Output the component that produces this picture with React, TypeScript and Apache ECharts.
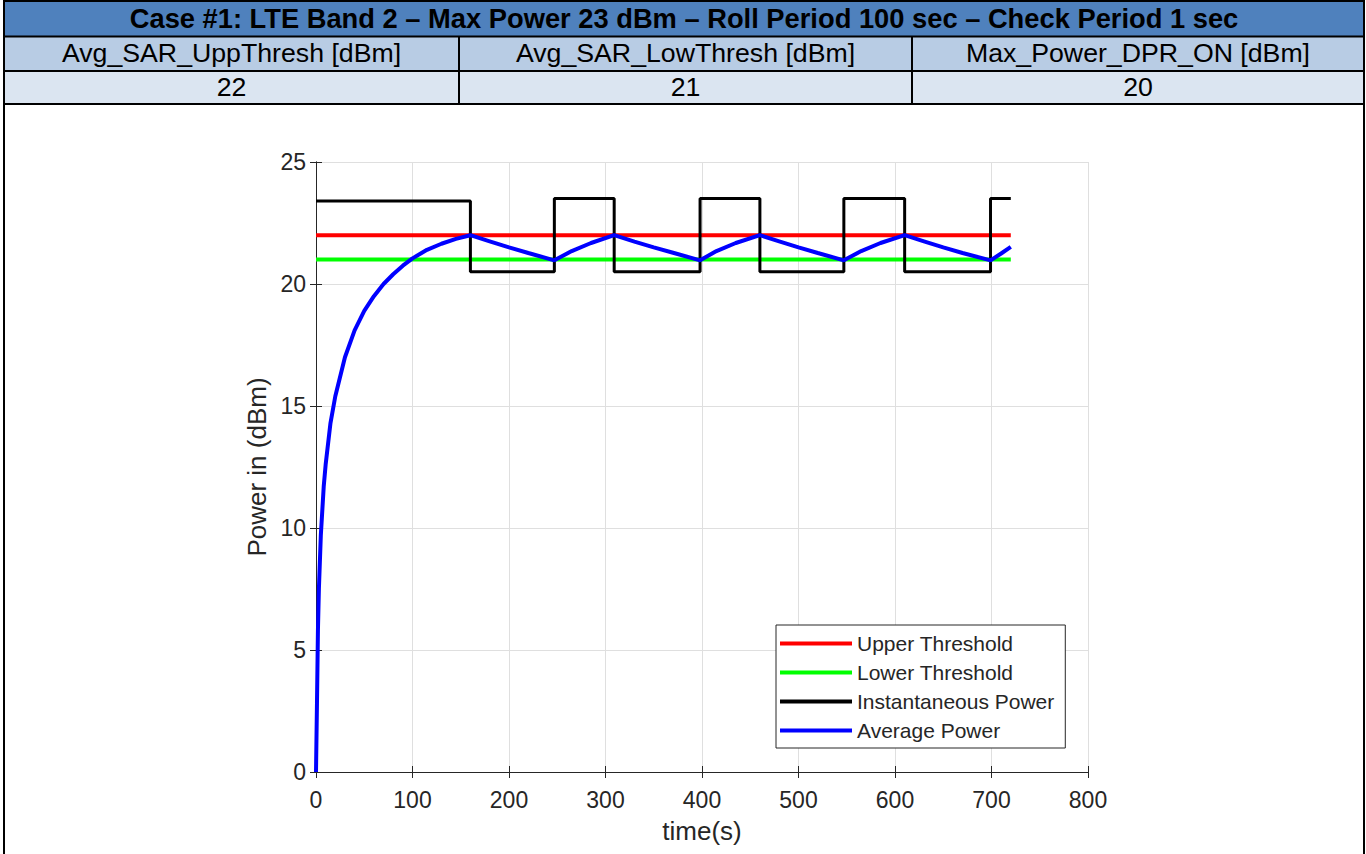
import React, { useEffect, useRef } from "react";
import * as echarts from "echarts";

// ---------- text / data ----------
const titleText =
  "Case #1: LTE Band 2 – Max Power 23 dBm – Roll Period 100 sec – Check Period 1 sec";
const paramNames = ["Avg_SAR_UppThresh [dBm]", "Avg_SAR_LowThresh [dBm]", "Max_Power_DPR_ON [dBm]"];
const paramValues = ["22", "21", "20"];

const seriesNames = ["Upper Threshold", "Lower Threshold", "Instantaneous Power", "Average Power"];

const upperThreshold = 22;
const lowerThreshold = 21;
const thresholdSpan = [0, 720];

const instTimes = [0, 160, 160, 247, 247, 309, 309, 398, 398, 460, 460, 547, 547, 610, 610, 699, 699, 720];
const instPower = [23.4, 23.4, 20.5, 20.5, 23.5, 23.5, 20.5, 20.5, 23.5, 23.5, 20.5, 20.5, 23.5, 23.5, 20.5, 20.5, 23.5, 23.5];

const avgTimes = [
  0, 1, 2, 3, 5, 8, 10, 15, 20, 30, 40, 50, 60, 70, 80, 90, 100, 115, 130, 145, 160,
  180, 200, 220, 247, 265, 285, 309,
  330, 350, 370, 398, 415, 435, 460,
  480, 500, 520, 547, 565, 585, 610,
  630, 650, 670, 699, 710, 720,
];
const avgPower = [
  0, 2.8, 5.8, 7.5, 9.7, 11.7, 12.6, 14.3, 15.4, 17.0, 18.1, 18.9, 19.5, 20.0, 20.4, 20.75, 21.05, 21.4, 21.65, 21.85, 22.0,
  21.75, 21.5, 21.27, 20.97, 21.35, 21.68, 22.0,
  21.74, 21.5, 21.28, 20.97, 21.35, 21.68, 22.0,
  21.75, 21.5, 21.27, 20.97, 21.35, 21.68, 22.0,
  21.75, 21.5, 21.27, 20.97, 21.25, 21.52,
];

const xMin = 0, xMax = 800, xStep = 100;
const yMin = 0, yMax = 25, yStep = 5;

// ---------- styles ----------
const FONT = '"Liberation Sans", Arial, Helvetica, sans-serif';
const AX = "#262626";
const GRIDC = "#dfdfdf";

export default function App() {
  const ref = useRef<HTMLDivElement>(null);

  useEffect(() => {
    if (!ref.current) return;
    const chart = echarts.init(ref.current, undefined, { renderer: "svg" });

    const zip = (a: number[], b: number[]) => a.map((v, i) => [v, b[i]]);

    const L = 4, R = 1364;
    const y0 = 1, y1 = 36.5, y2 = 71, y3 = 104;
    const c1 = 459, c2 = 912;

    const graphics: any[] = [
      { type: "rect", shape: { x: L, y: y0, width: R - L, height: y1 - y0 }, style: { fill: "#4F81BD" }, z: 10 },
      { type: "rect", shape: { x: L, y: y1, width: R - L, height: y2 - y1 }, style: { fill: "#B8CCE4" }, z: 10 },
      { type: "rect", shape: { x: L, y: y2, width: R - L, height: y3 - y2 }, style: { fill: "#DBE5F1" }, z: 10 },
    ];
    [y0, y1, y2, y3].forEach((yy) =>
      graphics.push({ type: "line", shape: { x1: L - 1, y1: yy, x2: R + 1, y2: yy }, style: { stroke: "#000", lineWidth: 2 }, z: 12 })
    );
    [L, R].forEach((xx) =>
      graphics.push({ type: "line", shape: { x1: xx, y1: 0, x2: xx, y2: 854 }, style: { stroke: "#000", lineWidth: 2 }, z: 12 })
    );
    [c1, c2].forEach((xx) =>
      graphics.push({ type: "line", shape: { x1: xx, y1: y1, x2: xx, y2: y3 }, style: { stroke: "#000", lineWidth: 2 }, z: 12 })
    );
    graphics.push({
      type: "text", x: (L + R) / 2, y: (y0 + y1) / 2, z: 13,
      style: { text: titleText, fill: "#000", font: `bold 27.3px ${FONT}`, textAlign: "center", textVerticalAlign: "middle" },
    });
    const cols = [[L, c1], [c1, c2], [c2, R]];
    cols.forEach(([a, b], i) => {
      graphics.push({
        type: "text", x: (a + b) / 2, y: (y1 + y2) / 2 - 0.5, z: 13,
        style: { text: paramNames[i], fill: "#000", font: `26.7px ${FONT}`, textAlign: "center", textVerticalAlign: "middle" },
      });
      graphics.push({
        type: "text", x: (a + b) / 2, y: (y2 + y3) / 2 - 0.5, z: 13,
        style: { text: paramValues[i], fill: "#000", font: `26.7px ${FONT}`, textAlign: "center", textVerticalAlign: "middle" },
      });
    });

    const axisCommon = {
      axisLine: { show: true, lineStyle: { color: AX, width: 1 } },
      axisTick: { show: true, inside: true, length: 6, lineStyle: { color: AX } },
    };

    chart.setOption({
      animation: false,
      backgroundColor: "#fff",
      textStyle: { fontFamily: FONT },
      grid: { left: 316, top: 162, width: 772, height: 610, containLabel: false },
      legend: {
        orient: "vertical",
        left: 776,
        top: 625,
        data: seriesNames,
        icon: "rect",
        itemWidth: 72,
        itemHeight: 4,
        itemGap: 8,
        padding: [8, 11, 7, 4],
        borderColor: AX,
        borderWidth: 1,
        borderRadius: 0,
        backgroundColor: "#fff",
        textStyle: { fontSize: 21, color: AX, lineHeight: 21, fontFamily: FONT },
      },
      xAxis: [
        {
          type: "value", min: xMin, max: xMax, interval: xStep, position: "bottom",
          ...axisCommon,
          splitLine: { show: true, lineStyle: { color: GRIDC, width: 1 } },
          axisLabel: { fontSize: 23, color: AX, margin: 16, fontFamily: FONT },
          name: "time(s)", nameLocation: "middle", nameGap: 46,
          nameTextStyle: { fontSize: 26, color: AX, fontFamily: FONT },
        },
        {
          type: "value", min: xMin, max: xMax, interval: xStep, position: "top",
          ...axisCommon, splitLine: { show: false }, axisLabel: { show: false },
        },
      ],
      yAxis: [
        {
          type: "value", min: yMin, max: yMax, interval: yStep, position: "left",
          ...axisCommon,
          splitLine: { show: true, lineStyle: { color: GRIDC, width: 1 } },
          axisLabel: { fontSize: 23, color: AX, margin: 10, fontFamily: FONT },
          name: "Power in (dBm)", nameLocation: "middle", nameGap: 45,
          nameTextStyle: { fontSize: 26, color: AX, fontFamily: FONT },
        },
        {
          type: "value", min: yMin, max: yMax, interval: yStep, position: "right",
          ...axisCommon, splitLine: { show: false }, axisLabel: { show: false },
        },
      ],
      series: [
        {
          name: seriesNames[0], type: "line", showSymbol: false, symbol: "none", color: "#ff0000",
          lineStyle: { width: 4, color: "#ff0000" },
          data: [[thresholdSpan[0], upperThreshold], [thresholdSpan[1], upperThreshold]],
          z: 2,
        },
        {
          name: seriesNames[1], type: "line", showSymbol: false, symbol: "none", color: "#00ff00",
          lineStyle: { width: 4, color: "#00ff00" },
          data: [[thresholdSpan[0], lowerThreshold], [thresholdSpan[1], lowerThreshold]],
          z: 3,
        },
        {
          name: seriesNames[2], type: "line", showSymbol: false, symbol: "none", color: "#000000",
          lineStyle: { width: 3, color: "#000000" },
          data: zip(instTimes, instPower),
          z: 4,
        },
        {
          name: seriesNames[3], type: "line", showSymbol: false, symbol: "none", color: "#0000ff",
          lineStyle: { width: 4, color: "#0000ff" },
          data: zip(avgTimes, avgPower),
          z: 5,
        },
      ],
      graphic: graphics,
    });

    return () => chart.dispose();
  }, []);

  return (
    <div
      ref={ref}
      style={{ position: "absolute", left: 0, top: 0, width: 1366, height: 854, background: "#fff" }}
    />
  );
}
